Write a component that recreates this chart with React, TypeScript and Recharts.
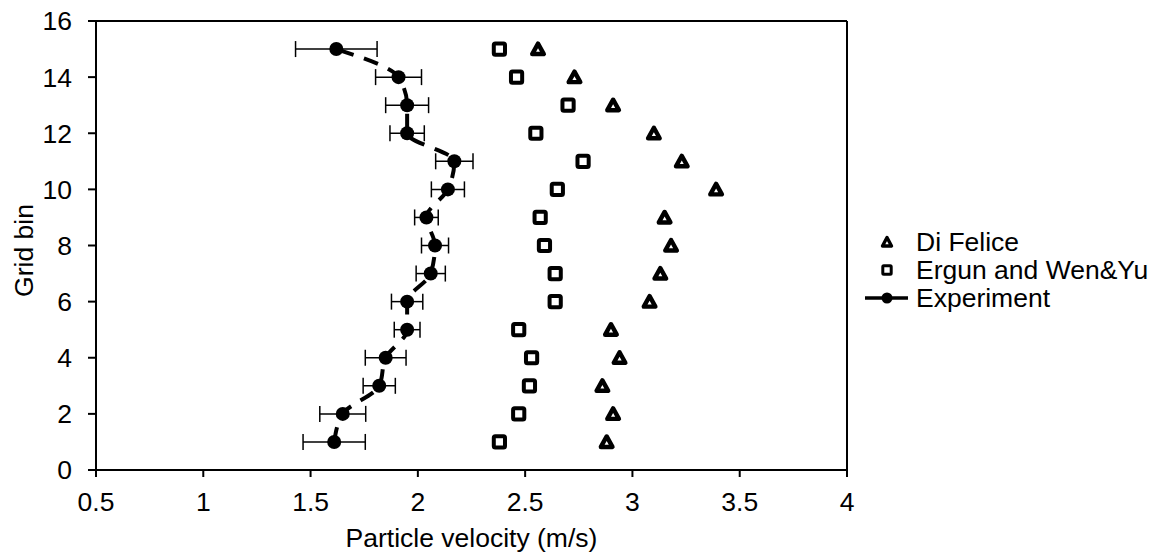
import React from 'react';
import { ComposedChart, Line, XAxis, YAxis, ErrorBar, Legend, ReferenceLine, Label } from 'recharts';

// grid bins (y) and particle velocities (m/s) read off the figure
const bins = [1, 2, 3, 4, 5, 6, 7, 8, 9, 10, 11, 12, 13, 14, 15];
const experiment = [1.61, 1.65, 1.82, 1.85, 1.95, 1.95, 2.06, 2.08, 2.04, 2.14, 2.17, 1.95, 1.95, 1.91, 1.62];
const experimentError = [0.145, 0.107, 0.075, 0.095, 0.06, 0.073, 0.068, 0.063, 0.055, 0.077, 0.087, 0.08, 0.1, 0.107, 0.19];
const ergunWenYu = [2.38, 2.47, 2.52, 2.53, 2.47, 2.64, 2.64, 2.59, 2.57, 2.65, 2.77, 2.55, 2.7, 2.46, 2.38];
const diFelice = [2.88, 2.91, 2.86, 2.94, 2.9, 3.08, 3.13, 3.18, 3.15, 3.39, 3.23, 3.1, 2.91, 2.73, 2.56];

const xTicks = [0.5, 1, 1.5, 2, 2.5, 3, 3.5, 4];
const yTicks = [0, 2, 4, 6, 8, 10, 12, 14, 16];
const legendNames = ['Di Felice', 'Ergun and Wen&Yu', 'Experiment'];

const data = bins.map((bin, i) => ({
  bin,
  experiment: experiment[i],
  err: experimentError[i],
  ergun: ergunWenYu[i],
  felice: diFelice[i],
}));

const FONT = '"Liberation Sans", Arial, sans-serif';
const FS = 26.5;
const INK = '#000';
const tickStyle = { fill: INK, fontSize: FS, fontFamily: FONT };

function TriangleDot(props: any) {
  const { cx, cy, index } = props;
  if (cx == null || cy == null) return <g key={`tri-${index}`} />;
  return (
    <path
      key={`tri-${index}`}
      d={`M${cx},${cy - 5.5} L${cx + 5.8},${cy + 5} L${cx - 5.8},${cy + 5} Z`}
      fill="#fff"
      stroke={INK}
      strokeWidth={4.4}
      strokeLinejoin="round"
    />
  );
}

function SquareDot(props: any) {
  const { cx, cy, index } = props;
  if (cx == null || cy == null) return <g key={`sq-${index}`} />;
  return (
    <rect
      key={`sq-${index}`}
      x={cx - 5.6}
      y={cy - 5.6}
      width={11.2}
      height={11.2}
      rx={1.5}
      fill="#fff"
      stroke={INK}
      strokeWidth={4}
    />
  );
}

function legendMarker(i: number) {
  if (i === 0) {
    return <path d="M40,9.5 L44.5,18 L35.5,18 Z" fill="#fff" stroke={INK} strokeWidth={3.4} strokeLinejoin="round" />;
  }
  if (i === 1) {
    return <rect x={35.8} y={9.8} width={8.4} height={8.4} rx={1} fill="#fff" stroke={INK} strokeWidth={3} />;
  }
  return (
    <g>
      <line x1={18} y1={14} x2={61} y2={14} stroke={INK} strokeWidth={3.5} />
      <circle cx={40} cy={14} r={5.5} fill={INK} />
    </g>
  );
}

function LegendBox() {
  return (
    <div style={{ fontFamily: FONT, fontSize: FS, color: INK, whiteSpace: 'nowrap' }}>
      {legendNames.map((name, i) => (
        <div key={name} style={{ display: 'flex', alignItems: 'center', height: 28 }}>
          <svg width={69} height={28} style={{ flex: 'none' }}>
            {legendMarker(i)}
          </svg>
          <span>{name}</span>
        </div>
      ))}
    </div>
  );
}

function YTitle(props: any) {
  const vb = props.viewBox || { y: 21, height: 449 };
  const cy = vb.y + vb.height / 2 + 5;
  return (
    <text
      x={33}
      y={cy}
      transform={`rotate(-90 33 ${cy})`}
      textAnchor="middle"
      fontSize={FS}
      fontFamily={FONT}
      fill={INK}
    >
      Grid bin
    </text>
  );
}

export default function App() {
  return (
    <div style={{ position: 'absolute', left: 0, top: 0, width: 1164, height: 559, background: '#fff' }}>
      <ComposedChart
        width={1164}
        height={559}
        layout="vertical"
        data={data}
        margin={{ top: 21, right: 17, bottom: 0, left: 0 }}
      >
        <XAxis
          type="number"
          domain={[0.5, 4]}
          ticks={xTicks}
          interval={0}
          allowDataOverflow
          height={89}
          tickSize={7}
          tickMargin={15}
          axisLine={{ stroke: INK, strokeWidth: 2 }}
          tickLine={{ stroke: INK, strokeWidth: 2 }}
          tick={tickStyle}
        >
          <Label
            value="Particle velocity (m/s)"
            position="insideBottom"
            offset={12}
            style={{ fontSize: FS, fontFamily: FONT, fill: INK }}
          />
        </XAxis>
        <YAxis
          type="number"
          dataKey="bin"
          domain={[0, 16]}
          ticks={yTicks}
          interval={0}
          reversed
          allowDataOverflow
          width={96}
          tickSize={8}
          tickMargin={16}
          axisLine={{ stroke: INK, strokeWidth: 2 }}
          tickLine={{ stroke: INK, strokeWidth: 2 }}
          tick={tickStyle}
        >
          <Label content={YTitle} />
        </YAxis>
        <ReferenceLine x={4} stroke={INK} strokeWidth={2} />
        <ReferenceLine y={16} stroke={INK} strokeWidth={2} />
        <Legend
          layout="vertical"
          align="right"
          verticalAlign="top"
          width={300}
          wrapperStyle={{ top: 228 }}
          content={LegendBox}
        />
        <Line
          dataKey="felice"
          name="Di Felice"
          stroke="none"
          dot={TriangleDot}
          activeDot={false}
          isAnimationActive={false}
        />
        <Line
          dataKey="ergun"
          name="Ergun and Wen&Yu"
          stroke="none"
          dot={SquareDot}
          activeDot={false}
          isAnimationActive={false}
        />
        <Line
          dataKey="experiment"
          name="Experiment"
          type="monotone"
          stroke={INK}
          strokeWidth={4}
          strokeDasharray="15 11"
          dot={{ r: 7, fill: INK, stroke: INK, strokeWidth: 0 }}
          activeDot={false}
          isAnimationActive={false}
        >
          <ErrorBar dataKey="err" direction="x" width={8} stroke={INK} strokeWidth={1.5} isAnimationActive={false} />
        </Line>
      </ComposedChart>
    </div>
  );
}
